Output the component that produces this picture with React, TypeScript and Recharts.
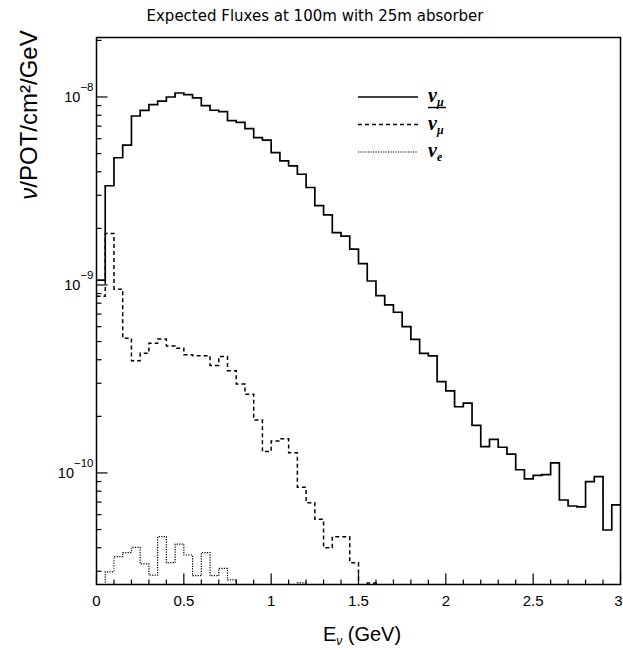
import React from 'react';
import { LineChart, Line, XAxis, YAxis, Legend, ReferenceArea, Label } from 'recharts';

// ---- data: flux per 0.05 GeV bin, from 0 to 3 GeV (60 bins) ----
const BIN_WIDTH_GEV = 0.05;

const NUMU_FLUX = [
  1.06e-9, 3.37e-9, 4.75e-9, 5.55e-9, 7.92e-9, 8.49e-9, 9.1e-9, 9.5e-9, 1.0e-8, 1.05e-8,
  1.03e-8, 9.9e-9, 9.0e-9, 8.5e-9, 8.35e-9, 7.48e-9, 7.33e-9, 6.79e-9, 6.08e-9, 5.9e-9,
  5.06e-9, 4.57e-9, 4.3e-9, 3.88e-9, 3.3e-9, 2.64e-9, 2.36e-9, 1.9e-9, 1.82e-9, 1.55e-9,
  1.3e-9, 1.05e-9, 8.77e-10, 7.83e-10, 7.16e-10, 6.0e-10, 5.14e-10, 4.33e-10, 4.2e-10, 3.06e-10,
  2.73e-10, 2.25e-10, 2.35e-10, 1.79e-10, 1.38e-10, 1.51e-10, 1.37e-10, 1.26e-10, 1.04e-10, 9.3e-11,
  9.7e-11, 9.8e-11, 1.13e-10, 7.18e-11, 6.67e-11, 6.6e-11, 9.0e-11, 9.57e-11, 4.97e-11, 6.76e-11,
];

const NUMUBAR_FLUX = [
  8.7e-10, 1.88e-9, 9.5e-10, 5.2e-10, 3.95e-10, 4.33e-10, 4.9e-10, 5.16e-10, 4.74e-10, 4.61e-10,
  4.25e-10, 4.2e-10, 4.2e-10, 3.73e-10, 4.16e-10, 3.5e-10, 2.97e-10, 2.62e-10, 1.91e-10, 1.3e-10,
  1.48e-10, 1.52e-10, 1.28e-10, 8.4e-11, 6.95e-11, 5.67e-11, 4.0e-11, 4.58e-11, 4.58e-11, 3.33e-11,
  1e-12, 2.6e-11, 1e-12, 1e-12, 1e-12, 1e-12, 1e-12, 1e-12, 1e-12, 1e-12,
  1e-12, 1e-12, 1e-12, 1e-12, 1e-12, 1e-12, 1e-12, 1e-12, 1e-12, 1e-12,
  1e-12, 1e-12, 1e-12, 1e-12, 1e-12, 1e-12, 1e-12, 1e-12, 1e-12, 1e-12,
];

const NUE_FLUX = [
  1e-12, 2.98e-11, 3.59e-11, 3.77e-11, 4.02e-11, 3.28e-11, 2.86e-11, 4.58e-11, 3.33e-11, 4.18e-11,
  3.66e-11, 2.84e-11, 3.77e-11, 2.84e-11, 3.11e-11, 2.7e-11, 1e-12, 1e-12, 1e-12, 1e-12,
  1e-12, 1e-12, 1e-12, 2.6e-11, 1e-12, 1e-12, 1e-12, 1e-12, 1e-12, 1e-12,
  1e-12, 1e-12, 1e-12, 1e-12, 1e-12, 1e-12, 1e-12, 1e-12, 1e-12, 1e-12,
  1e-12, 1e-12, 1e-12, 1e-12, 1e-12, 1e-12, 1e-12, 1e-12, 1e-12, 1e-12,
  1e-12, 1e-12, 1e-12, 1e-12, 1e-12, 1e-12, 1e-12, 1e-12, 1e-12, 1e-12,
];

const X_DOMAIN = [0, 3];
const Y_DOMAIN = [2.55e-11, 2.072e-8];

const X_MAJOR_TICKS = [0, 0.5, 1, 1.5, 2, 2.5, 3];
const X_MAJOR_LABELS = ['0', '0.5', '1', '1.5', '2', '2.5', '3'];
const X_MINOR_TICKS = [
  0.1, 0.2, 0.3, 0.4, 0.6, 0.7, 0.8, 0.9, 1.1, 1.2, 1.3, 1.4,
  1.6, 1.7, 1.8, 1.9, 2.1, 2.2, 2.3, 2.4, 2.6, 2.7, 2.8, 2.9,
];

const Y_MAJOR_TICKS = [1e-10, 1e-9, 1e-8];
const Y_MAJOR_EXPONENTS = ['\u221210', '\u22129', '\u22128'];
const Y_MINOR_TICKS = [
  3e-11, 4e-11, 5e-11, 6e-11, 7e-11, 8e-11, 9e-11,
  2e-10, 3e-10, 4e-10, 5e-10, 6e-10, 7e-10, 8e-10, 9e-10,
  2e-9, 3e-9, 4e-9, 5e-9, 6e-9, 7e-9, 8e-9, 9e-9,
  2e-8,
];

const TITLE = 'Expected Fluxes at 100m with 25m absorber';

const SERIES = [
  { key: 'numu', values: NUMU_FLUX, dash: undefined, width: 1.7, sub: '\u03bc', bar: false },
  { key: 'numubar', values: NUMUBAR_FLUX, dash: '4 3', width: 1.5, sub: '\u03bc', bar: true },
  { key: 'nue', values: NUE_FLUX, dash: '1.2 1.3', width: 1.2, sub: 'e', bar: false },
];

// histogram rows: one per bin low edge, plus the closing edge at 3 GeV
const data = NUMU_FLUX.map((_, i) => {
  const row: any = { e: Number((i * BIN_WIDTH_GEV).toFixed(2)) };
  SERIES.forEach((s) => { row[s.key] = s.values[i]; });
  return row;
});
{
  const last: any = { e: X_DOMAIN[1] };
  SERIES.forEach((s) => { last[s.key] = s.values[s.values.length - 1]; });
  data.push(last);
}

const SANS = '"Liberation Sans", Arial, Helvetica, sans-serif';
const SERIF = '"Liberation Serif", "Times New Roman", serif';

const XTick = (props: any) => {
  const { x, y, payload } = props;
  const idx = X_MAJOR_TICKS.indexOf(payload.value);
  const major = idx >= 0;
  const isLast = idx === X_MAJOR_TICKS.length - 1;
  return (
    <g>
      <line x1={x} x2={x} y1={y} y2={y - (major ? 11 : 5)} stroke="#000" strokeWidth={1.2} />
      {major && (
        <text
          x={isLast ? x + 2 : x}
          y={y + 21}
          textAnchor={isLast ? 'end' : 'middle'}
          fontSize={15}
          fontFamily={SANS}
          fill="#000"
        >
          {X_MAJOR_LABELS[idx]}
        </text>
      )}
    </g>
  );
};

const YTick = (props: any) => {
  const { x, y, payload } = props;
  const idx = Y_MAJOR_TICKS.indexOf(payload.value);
  const major = idx >= 0;
  return (
    <g>
      <line x1={x} x2={x + (major ? 11 : 5)} y1={y} y2={y} stroke="#000" strokeWidth={1.2} />
      {major && (
        <text x={x - 3} y={y + 5} textAnchor="end" fontFamily={SANS} fill="#000">
          <tspan fontSize={14.5}>10</tspan>
          <tspan fontSize={11.5} dy={-11.3}>{Y_MAJOR_EXPONENTS[idx]}</tspan>
        </text>
      )}
    </g>
  );
};

const LegendBox = () => (
  <svg width={130} height={85}>
    {SERIES.map((s, i) => {
      const ly = 17 + i * 27.5;
      return (
        <g key={s.key}>
          <line x1={3} x2={63} y1={ly} y2={ly} stroke="#000" strokeWidth={s.width} strokeDasharray={s.dash} />
          <text x={73} y={ly + 5} fontFamily={SERIF} fontStyle="italic" fontWeight="bold" fill="#000">
            <tspan fontSize={20}>{'\u03bd'}</tspan>
            <tspan fontSize={12} dy={4}>{s.sub}</tspan>
          </text>
          {s.bar && <line x1={73} x2={91} y1={ly - 17} y2={ly - 17} stroke="#000" strokeWidth={1.5} />}
        </g>
      );
    })}
  </svg>
);

export default function App() {
  const xTicks = [...X_MAJOR_TICKS, ...X_MINOR_TICKS].sort((a, b) => a - b);
  const yTicks = [...Y_MAJOR_TICKS, ...Y_MINOR_TICKS].sort((a, b) => a - b);
  return (
    <div style={{ position: 'absolute', left: 0, top: 0, width: 623, height: 650, background: '#fff' }}>
      <svg width={623} height={40} style={{ position: 'absolute', left: 0, top: 0 }}>
        <text x={315} y={21} textAnchor="middle" fontSize={15} fontFamily='"DejaVu Sans", sans-serif' fill="#000">
          {TITLE}
        </text>
      </svg>
      <LineChart
        width={623}
        height={650}
        data={data}
        margin={{ top: 37.5, right: 2.5, bottom: 35.5, left: 36.5 }}
      >
        <XAxis
          dataKey="e"
          type="number"
          domain={X_DOMAIN}
          ticks={xTicks}
          interval={0}
          tickSize={0}
          tickMargin={0}
          tickLine={false}
          axisLine={false}
          tick={(p: any) => <XTick {...p} />}
          height={30}
        >
          <Label
            content={() => (
              <text x={362} y={641} textAnchor="middle" fontFamily={SANS} fontSize={20} fill="#000">
                E<tspan fontSize={12} dy={4} fontStyle="italic">{'\u03bd'}</tspan>
                <tspan dy={-4}> (GeV)</tspan>
              </text>
            )}
          />
        </XAxis>
        <YAxis
          type="number"
          scale="log"
          domain={Y_DOMAIN}
          allowDataOverflow
          ticks={yTicks}
          interval={0}
          tickSize={0}
          tickMargin={0}
          tickLine={false}
          axisLine={false}
          tick={(p: any) => <YTick {...p} />}
          width={60}
        >
          <Label
            content={() => (
              <text
                x={28}
                y={115}
                transform="rotate(-90 28 115)"
                textAnchor="middle"
                dominantBaseline="central"
                fontFamily={SANS}
                fontSize={24}
                fill="#000"
              >
                <tspan fontStyle="italic">{'\u03bd'}</tspan>/POT/cm{'\u00b2'}/GeV
              </text>
            )}
          />
        </YAxis>
        <ReferenceArea
          x1={X_DOMAIN[0]}
          x2={X_DOMAIN[1]}
          y1={Y_DOMAIN[0]}
          y2={Y_DOMAIN[1]}
          fill="none"
          fillOpacity={0}
          stroke="#000"
          strokeWidth={1.5}
          ifOverflow="visible"
        />
        {SERIES.map((s) => (
          <Line
            key={s.key}
            dataKey={s.key}
            type="stepAfter"
            stroke="#000"
            strokeWidth={s.width}
            strokeDasharray={s.dash}
            dot={false}
            activeDot={false}
            isAnimationActive={false}
          />
        ))}
        <Legend
          layout="vertical"
          align="center"
          verticalAlign="middle"
          content={() => <LegendBox />}
          wrapperStyle={{ position: 'absolute', left: 355, top: 80, width: 130, height: 85 }}
        />
      </LineChart>
    </div>
  );
}
